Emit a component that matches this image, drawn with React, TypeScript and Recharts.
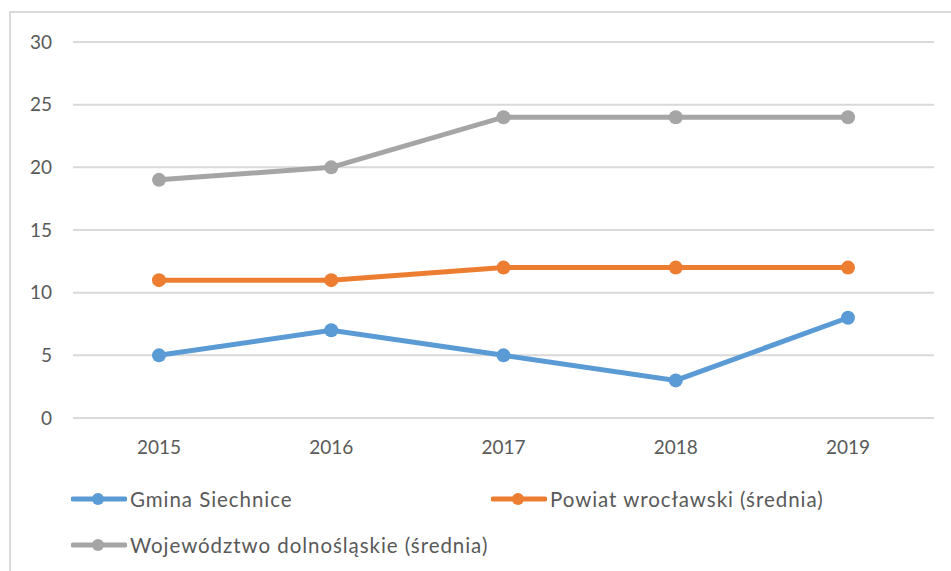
import React from 'react';
import {CartesianGrid, Line, LineChart, XAxis, YAxis} from 'recharts';

const years = ['2015', '2016', '2017', '2018', '2019'];
const gmina = [5, 7, 5, 3, 8];
const powiat = [11, 11, 12, 12, 12];
const wojewodztwo = [19, 20, 24, 24, 24];
const yTicks = [0, 5, 10, 15, 20, 25, 30];

const series = [
  {key: 'gmina', name: 'Gmina Siechnice', color: '#5b9bd5'},
  {key: 'powiat', name: 'Powiat wrocławski (średnia)', color: '#ed7d31'},
  {key: 'woj', name: 'Województwo dolnośląskie (średnia)', color: '#a5a5a5'},
];

const data = years.map((year, i) => ({
  year,
  gmina: gmina[i],
  powiat: powiat[i],
  woj: wojewodztwo[i],
}));

const font = 'Lato, "Open Sans", sans-serif';
const textColor = '#595959';

function LegendItem({color, name, left, top}: {color: string; name: string; left: number; top: number}) {
  return (
    <div style={{position: 'absolute', left, top, height: 24, display: 'flex', alignItems: 'center'}}>
      <svg width={56} height={20}>
        <line x1={2} y1={10} x2={54} y2={10} stroke={color} strokeWidth={5} strokeLinecap="round"/>
        <circle cx={27} cy={10} r={6} fill={color}/>
      </svg>
      <span style={{
        marginLeft: 3, fontFamily: font, fontSize: 20.5, letterSpacing: 0.95,
        color: textColor, whiteSpace: 'nowrap',
      }}>{name}</span>
    </div>
  );
}

export default function App() {
  return (
    <div style={{position: 'absolute', left: 0, top: 0, width: 951, height: 571, background: '#fff', overflow: 'hidden'}}>
      <div style={{
        position: 'absolute', left: 9, top: 11, width: 960, height: 600,
        borderLeft: '2px solid #d9d9d9', borderTop: '2px solid #d9d9d9',
      }}/>
      <div style={{position: 'absolute', left: 0, top: 0}}>
        <LineChart width={951} height={571} data={data} margin={{top: 42, right: 17, left: 0, bottom: 103}}>
          <CartesianGrid vertical={false} stroke="#d9d9d9" strokeWidth={2}/>
          <XAxis
            dataKey="year"
            axisLine={false}
            tickLine={false}
            tickSize={0}
            tickMargin={23}
            height={50}
            padding={{left: 86, right: 86}}
            tick={{fill: textColor, fontSize: 19, fontFamily: font}}
          />
          <YAxis
            width={73}
            domain={[0, 30]}
            ticks={yTicks}
            axisLine={false}
            tickLine={false}
            tickSize={0}
            tickMargin={21}
            tick={{fill: textColor, fontSize: 19, fontFamily: font}}
          />
          {series.map(s => (
            <Line
              key={s.key}
              dataKey={s.key}
              name={s.name}
              stroke={s.color}
              strokeWidth={5}
              dot={{r: 7, fill: s.color, stroke: s.color, strokeWidth: 0}}
              isAnimationActive={false}
            />
          ))}
        </LineChart>
      </div>
      <LegendItem color={series[0].color} name={series[0].name} left={71} top={487}/>
      <LegendItem color={series[1].color} name={series[1].name} left={491} top={487}/>
      <LegendItem color={series[2].color} name={series[2].name} left={71} top={533}/>
    </div>
  );
}
